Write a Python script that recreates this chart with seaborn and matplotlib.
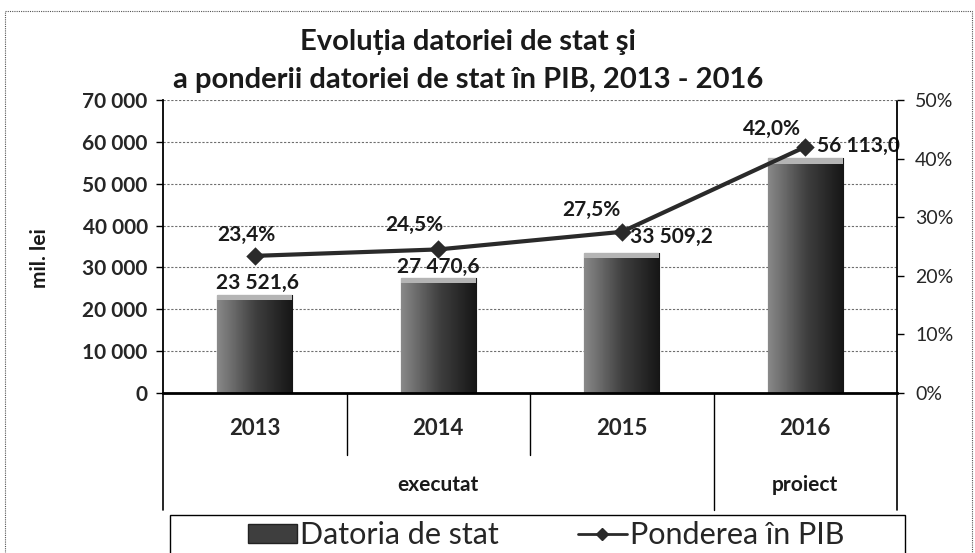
import numpy as np
import pandas as pd
import matplotlib
matplotlib.use("Agg")
import matplotlib.pyplot as plt
import seaborn as sns
from matplotlib.patches import Rectangle, Patch
from matplotlib.lines import Line2D
from matplotlib.colors import LinearSegmentedColormap
from matplotlib.ticker import FuncFormatter, MultipleLocator
import matplotlib.transforms as mtransforms

# --- Data ---
years = ["2013", "2014", "2015", "2016"]
datoria = [23521.6, 27470.6, 33509.2, 56113.0]   # mil. lei
ponderea = [23.4, 24.5, 27.5, 42.0]              # % din PIB
stadiu = ["executat", "executat", "executat", "proiect"]

df = pd.DataFrame({"an": years, "datoria": datoria,
                   "ponderea": ponderea, "stadiu": stadiu})

sns.set_theme(style="white")
plt.rcParams['font.family'] = ['Lato', 'DejaVu Sans']


def fmt_num(v, dec=1):
    s = f"{v:,.{dec}f}"
    return s.replace(",", " ").replace(".", ",")


fig = plt.figure(figsize=(9.75, 5.53), dpi=100)
ax = fig.add_axes([0.1672, 0.2893, 0.7528, 0.5299])

# --- Bars ---
sns.barplot(data=df, x="an", y="datoria", color="#3e3e3e", width=0.41,
            saturation=1, edgecolor="black", linewidth=0.8, ax=ax)

grad = np.linspace(0, 1, 64).reshape(1, -1)
cmap = LinearSegmentedColormap.from_list("bar", ["#888888", "#404040", "#161616"])
for p in ax.patches:
    x0, y0, w, h = p.get_x(), p.get_y(), p.get_width(), p.get_height()
    im = ax.imshow(grad, extent=(x0, x0 + w, y0, y0 + h), aspect="auto",
                   cmap=cmap, zorder=p.get_zorder() + 0.1)
    im.set_clip_path(p)
    ax.add_patch(Rectangle((x0, y0 + h - 1300), w, 1300, facecolor="#b4b4b4",
                           edgecolor="none", zorder=p.get_zorder() + 0.2))

ax.set_xlim(-0.5, len(years) - 0.5)
ax.set_ylim(0, 70000)
ax.yaxis.set_major_locator(MultipleLocator(10000))
ax.yaxis.set_major_formatter(FuncFormatter(lambda v, _: fmt_num(v, 0)))
ax.yaxis.grid(True, linestyle=(0, (2, 1.5)), color="#6e6e6e", linewidth=0.8)
ax.set_axisbelow(True)
ax.set_xlabel("")
ax.set_ylabel("")
ax.tick_params(axis="y", left=True, length=5, width=1, color="black",
               labelsize=15, pad=6)
ax.tick_params(axis="x", bottom=False, labelsize=16, pad=12)
for lab in ax.get_yticklabels() + ax.get_xticklabels():
    lab.set_fontweight("bold")
ax.spines["top"].set_visible(False)
ax.spines["right"].set_visible(False)
ax.spines["left"].set_color("black")
ax.spines["left"].set_linewidth(1.3)
ax.spines["bottom"].set_color("black")
ax.spines["bottom"].set_linewidth(2)

# bar value labels
bar_offsets = [(3, 12), (0, 11), (50, 16), (53, 12)]
for i, (v, off) in enumerate(zip(datoria, bar_offsets)):
    ax.annotate(fmt_num(v), (i, v), xytext=off, textcoords="offset pixels",
                ha="center", va="center", fontsize=15, fontweight="bold",
                color="#1a1a1a", zorder=6)

# --- Line on secondary axis ---
ax2 = ax.twinx()
sns.pointplot(data=df, x="an", y="ponderea", color="#2a2a2a", markers="D",
              markersize=7, linewidth=3, errorbar=None, ax=ax2)
ax2.set_xlim(-0.5, len(years) - 0.5)
ax2.set_ylim(0, 50)
ax2.yaxis.set_major_locator(MultipleLocator(10))
ax2.yaxis.set_major_formatter(FuncFormatter(lambda v, _: f"{v:.0f}%"))
ax2.set_ylabel("")
ax2.set_xlabel("")
ax2.tick_params(axis="y", right=True, length=5, width=1, color="black",
                labelsize=14, pad=8)
for s in ["top", "left", "bottom"]:
    ax2.spines[s].set_visible(False)
ax2.spines["right"].set_color("black")
ax2.spines["right"].set_linestyle((0, (1.5, 1)))
ax2.spines["right"].set_linewidth(1.3)

pct_offsets = [(-8, 21), (-24, 24), (-30, 22), (-33, 18)]
for i, (v, off) in enumerate(zip(ponderea, pct_offsets)):
    ax2.annotate(f"{v:.1f}%".replace(".", ","), (i, v), xytext=off,
                 textcoords="offset pixels", ha="center", va="center",
                 fontsize=15, fontweight="bold", color="#1a1a1a")

# --- Multi-level category axis below the plot ---
trans = mtransforms.blended_transform_factory(ax.transData, ax.transAxes)
n = len(years)
for x in [-0.5, n - 0.5]:
    ax.plot([x, x], [0, -0.40], transform=trans, color="black", lw=1.2,
            clip_on=False)
for i in range(n - 1):
    bottom = -0.40 if stadiu[i] != stadiu[i + 1] else -0.212
    ax.plot([i + 0.5, i + 0.5], [0, bottom], transform=trans, color="black",
            lw=1.0, clip_on=False)
for grp in dict.fromkeys(stadiu):
    idx = [i for i, s in enumerate(stadiu) if s == grp]
    ax.text(np.mean(idx), -0.314, grp, transform=trans, ha="center",
            va="center", fontsize=15, fontweight="bold", color="#1a1a1a")

# --- Titles / labels ---
fig.text(0.480, 1 - 42 / 553, "Evoluția datoriei de stat şi", ha="center",
         va="center", fontsize=21, fontweight="bold", color="#1a1a1a")
fig.text(0.480, 1 - 80 / 553, "a ponderii datoriei de stat în PIB, 2013 - 2016",
         ha="center", va="center", fontsize=21, fontweight="bold",
         color="#1a1a1a")
fig.text(40 / 975, 1 - 258 / 553, "mil. lei", rotation=90, ha="center",
         va="center", fontsize=15, fontweight="bold", color="#1a1a1a")

# --- Legend ---
fig.patches.append(Rectangle((170 / 975, -0.02), 735 / 975, (553 - 515) / 553 + 0.02,
                             transform=fig.transFigure, fill=False,
                             edgecolor="black", linewidth=1.0))
handles = [Patch(facecolor="#3e3e3e", edgecolor="#222222"),
           Line2D([0], [0], color="#2a2a2a", lw=2, marker="D", markersize=6)]
fig.legend(handles, ["Datoria de stat", "Ponderea în PIB"], loc="center",
           bbox_to_anchor=(0.560, 1 - 535 / 553), ncol=2, frameon=False,
           fontsize=22, columnspacing=2.6, handlelength=1.6, handleheight=0.6,
           handletextpad=0.1)

# outer dotted frame of the chart
fig.patches.append(Rectangle((5 / 975, -0.02), 967 / 975, 1.0,
                             transform=fig.transFigure, fill=False,
                             edgecolor="#555555", linewidth=0.8,
                             linestyle=(0, (1, 1))))

fig.savefig("out.png", dpi=100)
